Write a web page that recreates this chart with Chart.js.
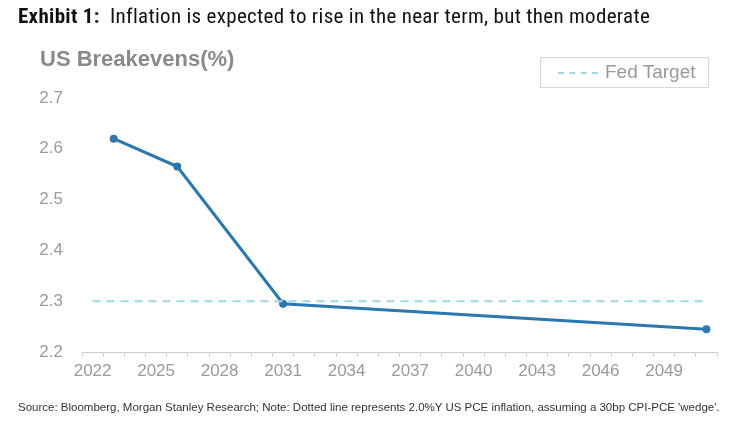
<!DOCTYPE html>
<html><head><meta charset="utf-8">
<script src="https://cdn.jsdelivr.net/npm/chart.js@4"></script>
<style>
html,body{margin:0;padding:0;background:#fff;}
#wrap{position:relative;width:750px;height:430px;overflow:hidden;}
#c{position:absolute;left:0;top:0;}
.t{position:absolute;white-space:nowrap;}
#title{left:18px;top:4px;font-family:"Liberation Sans Narrow","Roboto Condensed","Liberation Sans",sans-serif;font-size:21px;letter-spacing:0.3px;color:#111;}
#sub{left:40px;top:46px;font-family:"Liberation Sans",Arial,sans-serif;font-weight:bold;font-size:22px;color:#8a8a8a;}
#src{left:18px;top:401px;font-family:"Liberation Sans Narrow","Liberation Sans",sans-serif;font-size:11.5px;color:#333;}
#leg{position:absolute;left:540px;top:57px;width:169px;height:31px;border:1px solid #d8d8d8;box-sizing:border-box;}
#legline{position:absolute;left:17px;top:14px;width:40px;height:0;border-top:2px dashed #a3d5e3;}
#legtxt{position:absolute;left:64px;top:3px;font-family:"Liberation Sans",Arial,sans-serif;font-size:19px;color:#999;}
</style></head>
<body><div id="wrap">
<canvas id="c" width="750" height="430"></canvas>
<div class="t" id="title"><b>Exhibit 1:</b>&nbsp; Inflation is expected to rise in the near term, but then moderate</div>
<div class="t" id="sub">US Breakevens(%)</div>
<div id="leg"><div id="legline"></div><div id="legtxt">Fed Target</div></div>
<div class="t" id="src">Source: Bloomberg, Morgan Stanley Research; Note: Dotted line represents 2.0%Y US PCE inflation, assuming a 30bp CPI-PCE 'wedge'.</div>
</div>
<script>
const years = [];
for (let y = 2022; y <= 2051; y++) years.push(String(y));
const breakevenYears = ['2023','2026','2031','2051'];
const breakevenValues = [2.62, 2.565, 2.295, 2.245];
const fedTargetYears = ['2022','2051'];
const fedTargetValues = [2.3, 2.3];
const yTicks = [2.2, 2.3, 2.4, 2.5, 2.6, 2.7];

new Chart(document.getElementById('c'), {
  type: 'line',
  data: {
    labels: years,
    datasets: [
      {
        label: 'Fed Target',
        data: fedTargetYears.map((x,i)=>({x, y: fedTargetValues[i]})),
        borderColor: '#a3d5e3',
        borderWidth: 2,
        borderDash: [8,6],
        pointRadius: 0,
        fill: false
      },
      {
        label: 'US Breakevens',
        data: breakevenYears.map((x,i)=>({x, y: breakevenValues[i]})),
        borderColor: '#2a78ae',
        backgroundColor: '#2a78ae',
        borderWidth: 3,
        pointRadius: 4,
        pointBorderWidth: 0,
        fill: false,
        tension: 0
      }
    ]
  },
  options: {
    responsive: false,
    animation: false,
    layout: { padding: { top: 98, right: 33, bottom: 38, left: 0 } },
    plugins: { legend: { display: false }, tooltip: { enabled: false } },
    scales: {
      x: {
        type: 'category',
        offset: true,
        grid: { display: true, drawOnChartArea: false, offset: true, tickLength: 5, color: '#cfcfcf' },
        border: { display: true, color: '#cfcfcf', width: 1 },
        afterFit: s => { s.height = 40; },
        ticks: {
          autoSkip: false, maxRotation: 0, padding: 4,
          color: '#9a9a9a',
          font: { family: '"Liberation Sans", Arial, sans-serif', size: 17 },
          callback: function(v, i) { const y = Number(this.getLabelForValue(v)); return ((y - 2022) % 3 === 0) ? String(y) : ''; }
        }
      },
      y: {
        min: 2.2, max: 2.7,
        afterFit: s => { s.width = 82; },
        afterBuildTicks: s => { s.ticks = yTicks.map(v => ({ value: v })); },
        grid: { display: false, drawTicks: false },
        border: { display: false },
        ticks: {
          padding: 19,
          color: '#9a9a9a',
          font: { family: '"Liberation Sans", Arial, sans-serif', size: 17 },
          callback: v => v.toFixed(1)
        }
      }
    }
  }
});
</script>
</body></html>
